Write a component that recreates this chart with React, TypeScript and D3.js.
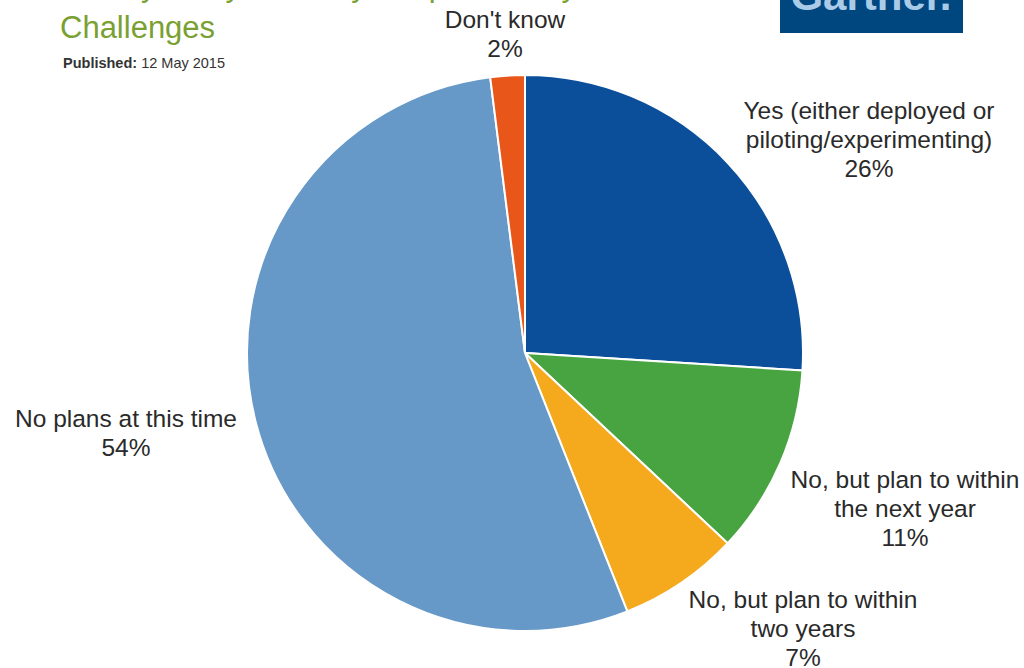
import React from "react";
import * as d3 from "d3";

const categories = [
  "Yes (either deployed or|piloting/experimenting)",
  "No, but plan to within|the next year",
  "No, but plan to within|two years",
  "No plans at this time",
  "Don't know",
];
const values = [26, 11, 7, 54, 2];
const colors = ["#0b4f9a", "#48a440", "#f5aa1e", "#6699c7", "#e8561a"];
// label anchor (center x, first baseline y) for each category
const labelPos: [number, number][] = [
  [869, 119],
  [905, 488],
  [803, 608],
  [126, 427],
  [505, 28],
];

const W = 1024;
const H = 668;
const cx = 525;
const cy = 353;
const R = 278;

export default function App() {
  const pie = d3.pie<number>().sort(null).value((d) => d)(values);
  const arc = d3.arc<d3.PieArcDatum<number>>().innerRadius(0).outerRadius(R);
  const font = "'Liberation Sans', Arial, sans-serif";
  return (
    <svg width={W} height={H} style={{ position: "absolute", left: 0, top: 0, background: "#fff" }}>
      <rect x={0} y={0} width={W} height={H} fill="#fff" />
      <text x={60} y={-4} fontFamily={font} fontSize={31} fill="#7aa032">
        Survey Analysis: Early Adoption of Hybrid Cloud
      </text>
      <text x={60} y={38} fontFamily={font} fontSize={31} fill="#7aa032">
        Challenges
      </text>
      <text x={63} y={68} fontFamily={font} fontSize={14.5} fill="#333">
        <tspan fontWeight="bold">Published:</tspan> 12 May 2015
      </text>
      <rect x={780} y={0} width={183} height={33} fill="#00467f" />
      <text x={871} y={10} textAnchor="middle" fontFamily={font} fontWeight="bold" fontSize={42} fill="#a9cbe8">
        Gartner.
      </text>
      <g transform={`translate(${cx},${cy})`}>
        {pie.map((p, i) => (
          <path key={i} d={arc(p) || ""} fill={colors[i]} stroke="#fff" strokeWidth={2} />
        ))}
      </g>
      {categories.map((c, i) => {
        const lines = c.split("|").concat([`${values[i]}%`]);
        const [lx, ly] = labelPos[i];
        return (
          <text key={i} x={lx} y={ly} textAnchor="middle" fontFamily={font} fontSize={24.5} fill="#2a2a2a">
            {lines.map((l, j) => (
              <tspan key={j} x={lx} y={ly + j * 29}>
                {l}
              </tspan>
            ))}
          </text>
        );
      })}
    </svg>
  );
}
